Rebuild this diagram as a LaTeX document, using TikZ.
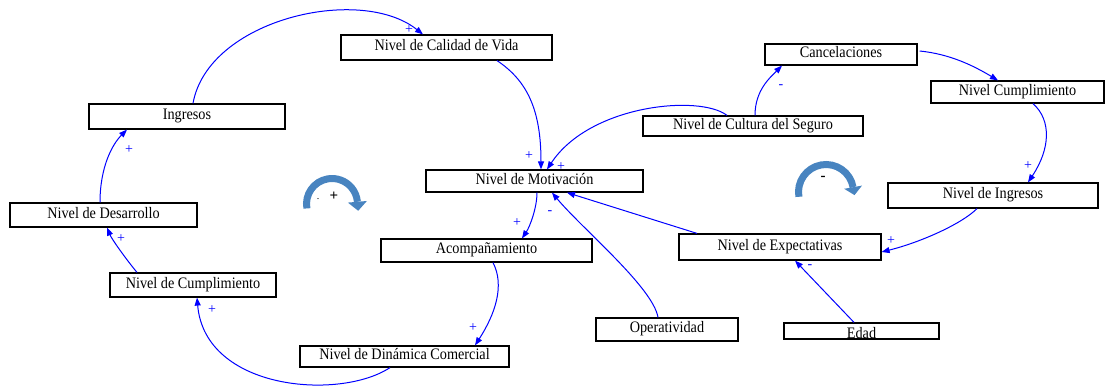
\documentclass[tikz,border=0pt]{standalone}
\usepackage{fontspec}
\setmainfont{Liberation Serif}[FakeStretch=0.89]
\newfontfamily\signfont{Liberation Serif}
\usetikzlibrary{arrows.meta}
\definecolor{linkblue}{RGB}{0,0,255}
\definecolor{loopblue}{RGB}{72,132,192}
\tikzset{
  var/.style={draw=black, line width=1.2pt, fill=white, inner sep=0pt,
    text height=0.66em, text depth=0pt, font=\fontsize{16}{16}\selectfont},
  link/.style={draw=linkblue, line width=1pt, -{Triangle[length=8pt,width=6pt]}},
  sign/.style={text=linkblue, inner sep=0pt, font=\signfont\fontsize{14}{14}\selectfont},
  loopsym/.style={draw=loopblue, line width=7pt},
  loophead/.style={fill=loopblue},
  loopsign/.style={inner sep=0pt, font=\signfont\bfseries\fontsize{15}{15}\selectfont}
}
\begin{document}
\begin{tikzpicture}[x=1pt,y=-1pt]
\useasboundingbox (0,0) rectangle (1106,390);

% variables
\node[var, minimum width=211pt, minimum height=25pt] (calidad)   at (446.5,47.5) {Nivel de Calidad de Vida};
\node[var, minimum width=196pt, minimum height=25pt] (ingresos)  at (187,116.5)  {Ingresos};
\node[var, minimum width=187pt, minimum height=24pt] (desarr)    at (103.5,215)  {Nivel de Desarrollo};
\node[var, minimum width=166pt, minimum height=24pt] (cumplL)    at (193,285)    {Nivel de Cumplimiento};
\node[var, minimum width=209pt, minimum height=21pt] (dinamica)  at (404.5,356.5) {Nivel de Dinámica Comercial};
\node[var, minimum width=211pt, minimum height=23pt] (acomp)     at (486.5,250.5) {Acompañamiento};
\node[var, minimum width=217pt, minimum height=22pt] (motiv)     at (534.5,181)  {Nivel de Motivación};
\node[var, minimum width=142pt, minimum height=23pt] (operat)    at (667,329.5)  {Operatividad};
\node[var, minimum width=155pt, minimum height=16pt, text height=15.6pt] (edad) at (861.5,331) {Edad};
\node[var, minimum width=202pt, minimum height=26pt] (expect)    at (780,247)    {Nivel de Expectativas};
\node[var, minimum width=210pt, minimum height=25pt] (ingresosN) at (993,195.5)  {Nivel de Ingresos};
\node[var, minimum width=173pt, minimum height=22pt] (cumplR)    at (1017.5,92)  {Nivel Cumplimiento};
\node[var, minimum width=152pt, minimum height=21pt] (cancel)    at (841,54.5)   {Cancelaciones};
\node[var, minimum width=220pt, minimum height=20pt] (cultura)   at (753,126)    {Nivel de Cultura del Seguro};

% causal links
\draw[link] ([xshift=6pt]ingresos.north) .. controls +(15,-84) and +(-63,-50) .. ([xshift=-23.5pt]calidad.north);
\draw[link] ([xshift=50.5pt]calidad.south) .. controls +(30,20) and +(0,-60) .. ([xshift=6.5pt]motiv.north);
\draw[link] ([xshift=-26pt]cultura.north) .. controls +(-27,-21) and +(43,-65) .. ([xshift=12.5pt]motiv.north);
\draw[link] ([xshift=2pt]cultura.north) .. controls +(0,-25) and +(-12,12) .. ([xshift=-59pt]cancel.south);
\draw[link] ([xshift=2pt,yshift=3.5pt]cancel.east) .. controls +(30,3) and +(-25,-15) .. ([xshift=-19.5pt]cumplR.north);
\draw[link] ([xshift=15.5pt]cumplR.south) .. controls +(19,17) and +(22,-33) .. ([xshift=35pt]ingresosN.north);
\draw[link] ([xshift=-16pt]ingresosN.south) .. controls +(-15,15) and +(40,-10) .. ([yshift=-5pt]expect.east);
\draw[link] ([xshift=-83pt]expect.north) -- ([xshift=32.5pt]motiv.south);
\draw[link] ([xshift=-9pt]operat.north) .. controls +(-5,-30) and +(30,36) .. ([xshift=17.5pt]motiv.south);
\draw[link] ([xshift=2.5pt]motiv.south) .. controls +(0,15) and +(8,-12) .. ([xshift=35.5pt]acomp.north);
\draw[link] ([xshift=6.5pt]acomp.south) .. controls +(12,23) and +(20,-31) .. ([xshift=70.5pt]dinamica.north);
\draw[link] ([xshift=-14.5pt]dinamica.south) .. controls +(-50,33) and +(8,93) .. ([xshift=4pt]cumplL.south);
\draw[link] ([xshift=-56pt]cumplL.north) .. controls +(-10,-12) and +(5,12) .. ([xshift=3.5pt]desarr.south);
\draw[link] ([xshift=-3.5pt]desarr.north) .. controls +(0,-35) and +(-15,15) .. ([xshift=-60pt]ingresos.south);
\draw[link] ([xshift=-7.5pt]edad.north) -- ([xshift=15pt]expect.south);

% link polarities
\node[sign] (s1)  at (409,30)   {+};
\node[sign] (s2)  at (529,156)  {+};
\node[sign] (s3)  at (561,167)  {+};
\node[sign] (s4)  at (781,87)   {-};
\node[sign] (s5)  at (1028,166) {+};
\node[sign] (s6)  at (891,241)  {+};
\node[sign] (s7)  at (550,213)  {-};
\node[sign] (s8)  at (517,223)  {+};
\node[sign] (s9)  at (473,328)  {+};
\node[sign] (s10) at (212,310)  {+};
\node[sign] (s11) at (121,239)  {+};
\node[sign] (s12) at (129,150)  {+};
\node[sign] (s13) at (810,267)  {-};

% loop polarity symbols: reinforcing loop
\draw[loopsym, shift={(332,204)}] (170:25.5) arc[start angle=170, end angle=355, radius=25.5];
\fill[loophead] (366.9,201.0) -- (358.2,210.8) -- (347.9,202.6) -- cycle;
\node[loopsign] (rloop) at (334,196) {+};
\node[inner sep=0pt, font=\signfont\fontsize{10}{10}\selectfont] (rdot) at (318,199) {.};
% balancing loop
\draw[loopsym, shift={(826,192)}] (170:27.5) arc[start angle=170, end angle=350, radius=27.5];
\fill[loophead] (862.0,185.6) -- (854.5,195.1) -- (844.2,188.8) -- cycle;
\node[loopsign] (bloop) at (823,178) {-};
\end{tikzpicture}
\end{document}
